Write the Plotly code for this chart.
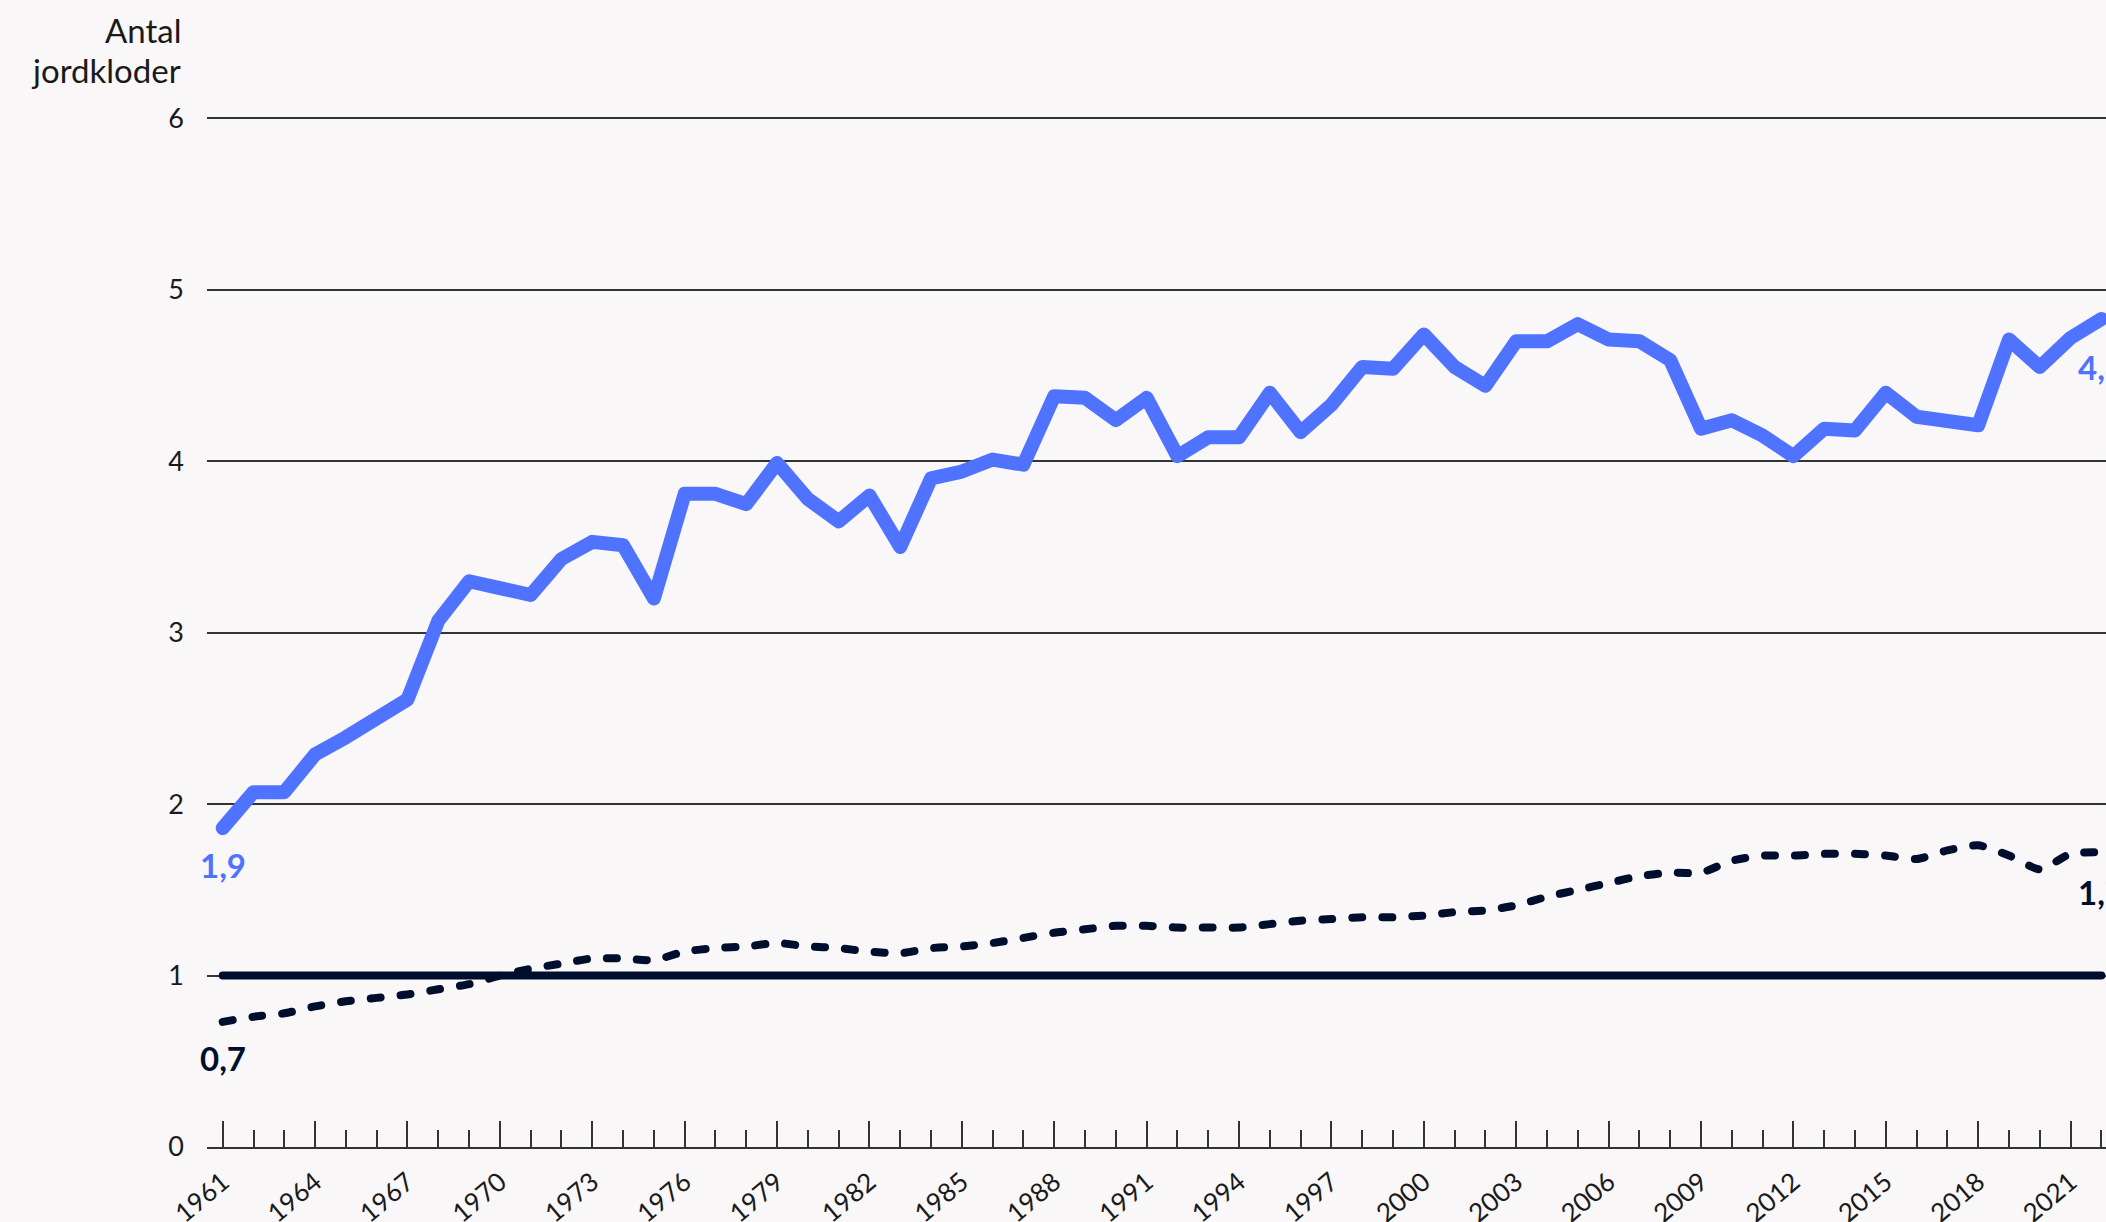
import plotly.graph_objects as go

# Ecological footprint expressed as number of Earths, 1961-2022
years = list(range(1961, 2023))

footprint_high = [
    1.86, 2.07, 2.07, 2.29, 2.39, 2.50, 2.61, 3.07, 3.30, 3.26,
    3.22, 3.43, 3.53, 3.51, 3.20, 3.81, 3.81, 3.75, 3.99, 3.78,
    3.65, 3.80, 3.50, 3.90, 3.94, 4.01, 3.98, 4.38, 4.37, 4.24,
    4.37, 4.03, 4.14, 4.14, 4.40, 4.17, 4.33, 4.55, 4.54, 4.74,
    4.55, 4.44, 4.70, 4.70, 4.80, 4.71, 4.70, 4.59, 4.19, 4.24,
    4.15, 4.03, 4.19, 4.18, 4.40, 4.26, 4.24, 4.21, 4.71, 4.55,
    4.72, 4.83,
]

footprint_world = [
    0.73, 0.76, 0.78, 0.82, 0.85, 0.87, 0.89, 0.92, 0.95, 1.00,
    1.04, 1.07, 1.10, 1.10, 1.09, 1.14, 1.16, 1.17, 1.19, 1.17,
    1.16, 1.14, 1.13, 1.16, 1.17, 1.19, 1.22, 1.25, 1.27, 1.29,
    1.29, 1.28, 1.28, 1.28, 1.30, 1.32, 1.33, 1.34, 1.34, 1.35,
    1.37, 1.38, 1.41, 1.46, 1.50, 1.54, 1.58, 1.60, 1.60, 1.67,
    1.70, 1.70, 1.71, 1.71, 1.70, 1.68, 1.73, 1.76, 1.70, 1.62,
    1.71, 1.72,
]

one_earth = [1.0] * len(years)

y_ticks = [0, 1, 2, 3, 4, 5, 6]

BLUE = "#4F73FF"
NAVY = "#000E2E"
BG = "#F9F7F8"
GRID = "#333333"
FONT = "Lato"

# Pixel geometry of the plotting area
PLOT_LEFT = 207
PLOT_TOP = 114.6
PLOT_H = 1222 - 75 - PLOT_TOP
PLOT_W = 2106 - PLOT_LEFT


def fmt(v):
    return f"{v:.1f}".replace(".", ",")


fig = go.Figure()

fig.add_trace(go.Scatter(
    x=years, y=one_earth, mode="lines",
    line=dict(color=NAVY, width=8),
    hoverinfo="skip",
))
fig.add_trace(go.Scatter(
    x=years, y=footprint_world, mode="lines",
    line=dict(color=NAVY, width=8, dash="10px,20px", shape="spline", smoothing=0.6),
    hoverinfo="skip",
))
fig.add_trace(go.Scatter(
    x=years, y=footprint_high, mode="lines",
    line=dict(color=BLUE, width=14),
    hoverinfo="skip",
))

# End-point value labels
end_labels = [
    (years[0], footprint_high[0], BLUE, 37),
    (years[-1], footprint_high[-1], BLUE, 48),
    (years[0], footprint_world[0], NAVY, 36),
    (years[-1], footprint_world[-1], NAVY, 40),
]
for x, v, col, dy in end_labels:
    fig.add_annotation(
        x=x, y=v, xref="x", yref="y", text=fmt(v), showarrow=False,
        xanchor="center", yanchor="middle", yshift=-dy,
        font=dict(family=FONT, size=33, color=col, weight="bold"),
    )

# Y-axis title, two lines right-aligned
for txt, yp in [("Antal", 29.5), ("jordkloder", 70)]:
    fig.add_annotation(
        text=txt, xref="paper", yref="paper",
        x=(183 - PLOT_LEFT) / PLOT_W, y=1 + (PLOT_TOP - yp) / PLOT_H,
        xanchor="right", yanchor="middle", showarrow=False,
        font=dict(family=FONT, size=33, color="#1a1a1a"),
    )

fig.update_layout(
    width=2106, height=1222,
    margin=dict(l=PLOT_LEFT, r=0, t=PLOT_TOP, b=75),
    paper_bgcolor=BG, plot_bgcolor=BG,
    showlegend=False,
    font=dict(family=FONT, size=26, color="#1a1a1a"),
    xaxis=dict(
        range=[1960.49, 2022.15],
        tickmode="linear", tick0=1961, dtick=3,
        ticks="inside", ticklen=26, tickwidth=1.5, tickcolor=GRID,
        tickangle=-40, tickfont=dict(size=26),
        showgrid=False, zeroline=False,
        showline=True, linecolor=GRID, linewidth=1.5,
        minor=dict(tick0=1961, dtick=1, ticks="inside", ticklen=17,
                   tickwidth=1.5, tickcolor=GRID, showgrid=False),
        ticklabelstandoff=8,
        automargin=False,
    ),
    yaxis=dict(
        range=[0, 6.02], tickvals=y_ticks,
        ticktext=[str(t) for t in y_ticks],
        showgrid=True, gridcolor=GRID, gridwidth=1.5,
        zeroline=False, showline=False, ticks="",
        tickfont=dict(size=27), ticklabelstandoff=22,
        automargin=False,
    ),
)

round_caps = """
var gd = document.getElementById('{plot_id}');
function roundCaps() {
  gd.querySelectorAll('.scatterlayer .js-line').forEach(function (p) {
    p.style.strokeLinecap = 'round';
    p.style.strokeLinejoin = 'round';
  });
}
roundCaps();
gd.on('plotly_afterplot', roundCaps);
"""

fig.write_html("out.html", config={"displayModeBar": False}, post_script=round_caps)
